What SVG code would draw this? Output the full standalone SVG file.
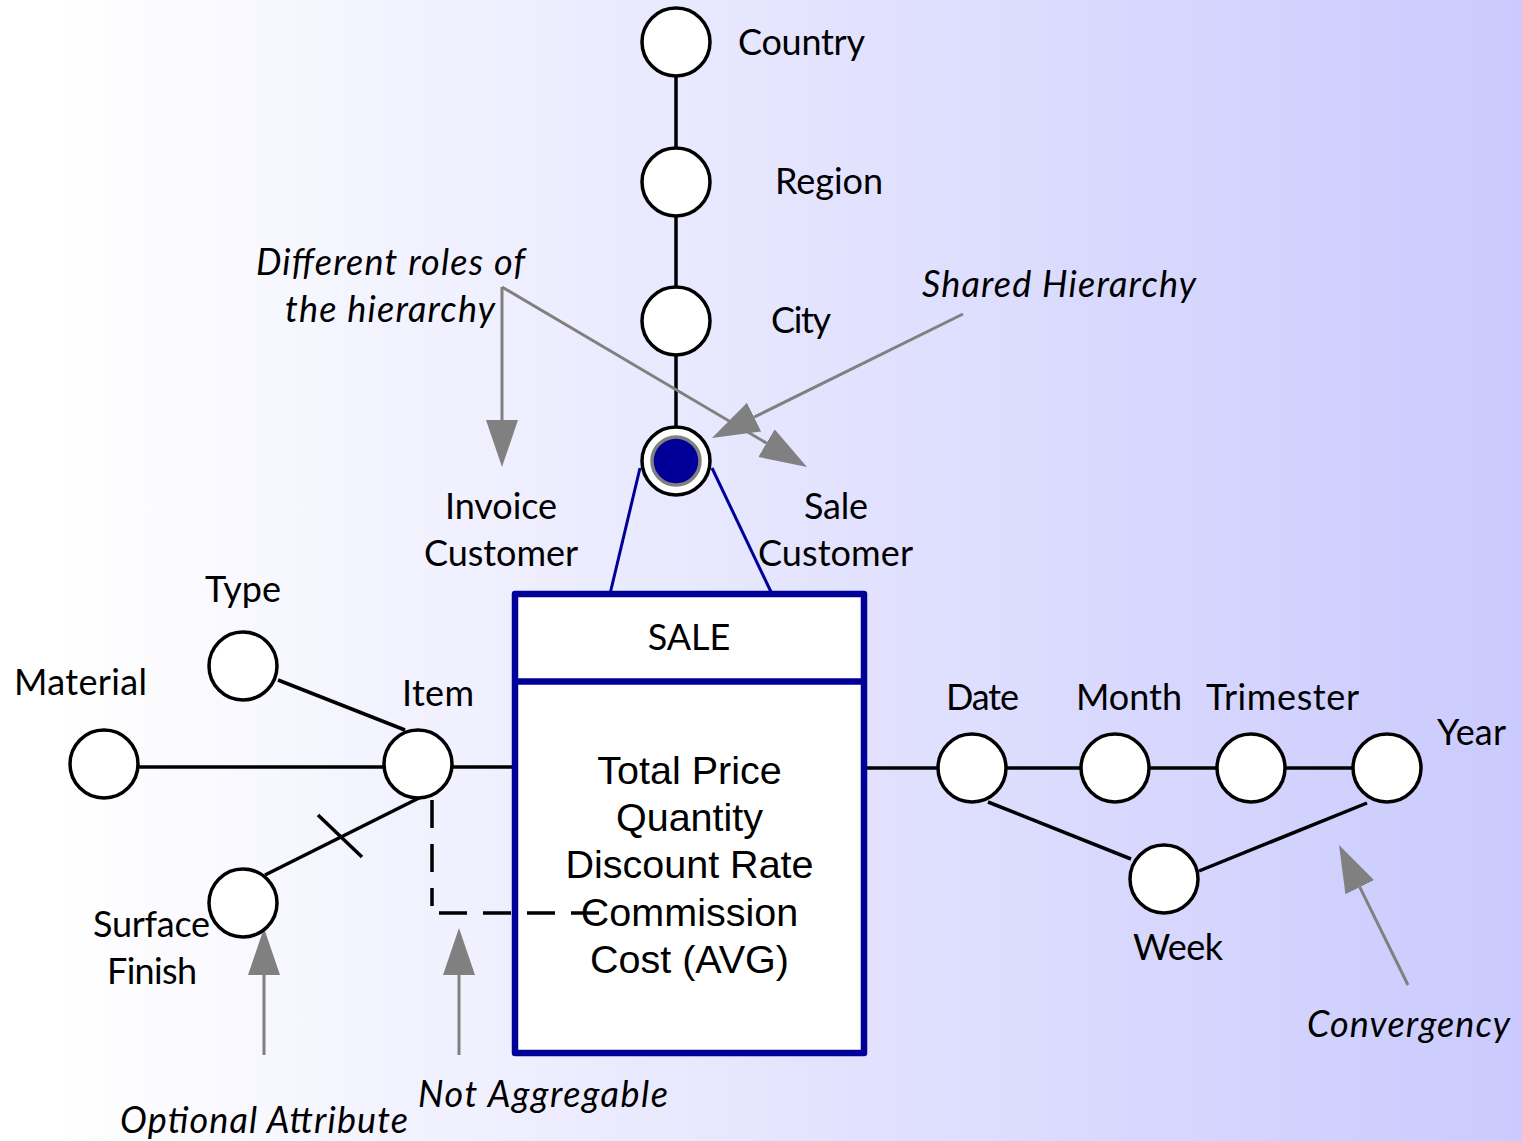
<svg xmlns="http://www.w3.org/2000/svg" width="1522" height="1141" viewBox="0 0 1522 1141">
  <defs>
    <linearGradient id="bg" x1="0" y1="0" x2="1" y2="0">
      <stop offset="0.04" stop-color="#ffffff"/>
      <stop offset="1" stop-color="#cacafe"/>
    </linearGradient>
    <marker id="head" markerUnits="userSpaceOnUse" markerWidth="48" markerHeight="34" refX="0" refY="16" orient="auto">
      <path d="M0,0 L47,16 L0,32 z" fill="#808080"/>
    </marker>
    <style>
      .lvl { fill: #ffffff; stroke: #000000; stroke-width: 3.5; }
      .link { stroke: #000000; stroke-width: 3.5; fill: none; }
      .dash { stroke: #000000; stroke-width: 3.5; fill: none; stroke-dasharray: 28 16; }
      .blue { stroke: #000099; stroke-width: 3; fill: none; }
      .note { stroke: #808080; stroke-width: 3; fill: none; marker-end: url(#head); }
      .lbl { font-family: "Lato", "Open Sans", "Liberation Sans", sans-serif; font-size: 36px; fill: #000000; }
      .it { font-family: "Lato", "Open Sans", "Liberation Sans", sans-serif; font-size: 36px; font-style: italic; fill: #000000; }
      .meas { font-family: "Liberation Sans", Arial, sans-serif; font-size: 39.5px; fill: #000000; text-anchor: middle; }
    </style>
  </defs>

  <rect x="0" y="0" width="1522" height="1141" fill="url(#bg)"/>

  <!-- connectors -->
  <g id="connectors">
    <line class="link" x1="676" y1="42" x2="676" y2="440"/>
    <line class="blue" x1="640" y1="468" x2="610" y2="594"/>
    <line class="blue" x1="712" y1="468" x2="772" y2="594"/>
    <line class="link" x1="104" y1="767" x2="515" y2="767"/>
    <line class="link" x1="278" y1="680" x2="405" y2="730"/>
    <line class="link" x1="265" y1="875" x2="421" y2="797"/>
    <line class="link" x1="318" y1="815" x2="362" y2="857"/>
    <line class="link" x1="864" y1="768" x2="1387" y2="768"/>
    <line class="link" x1="988" y1="802" x2="1131" y2="859"/>
    <line class="link" x1="1199" y1="871" x2="1367" y2="803"/>
  </g>

  <!-- annotation arrows -->
  <g id="annotations">
    <line class="note" x1="502" y1="287" x2="502" y2="420"/>
    <line class="note" x1="502" y1="287" x2="766.5" y2="443.1"/>
    <line class="note" x1="963" y1="314" x2="754.1" y2="417.2"/>
    <line class="note" x1="264" y1="1055" x2="264" y2="975"/>
    <line class="note" x1="459" y1="1055" x2="459" y2="975"/>
    <line class="note" x1="1408" y1="985" x2="1359.8" y2="887.2"/>
    <text class="it" x="256" y="275" textLength="269">Different roles of</text>
    <text class="it" x="285" y="322" textLength="210">the hierarchy</text>
    <text class="it" x="922" y="297" textLength="274">Shared Hierarchy</text>
    <text class="it" x="1307" y="1037" textLength="203">Convergency</text>
    <text class="it" x="418" y="1107" textLength="250">Not Aggregable</text>
    <text class="it" x="120" y="1133" textLength="288">Optional Attribute</text>
  </g>

  <!-- fact -->
  <g id="fact-sale">
    <rect x="515" y="594" width="349" height="459" fill="#ffffff" stroke="#000099" stroke-width="6.5" stroke-linejoin="round"/>
    <line x1="515" y1="681.5" x2="864" y2="681.5" stroke="#000099" stroke-width="6.5"/>
    <text class="lbl" x="689" y="650" font-size="32" text-anchor="middle">SALE</text>
    <text class="meas" x="689.5" y="784">Total Price</text>
    <text class="meas" x="689.5" y="831">Quantity</text>
    <text class="meas" x="689.5" y="878">Discount Rate</text>
    <text class="meas" x="689.5" y="926">Commission</text>
    <text class="meas" x="689.5" y="973">Cost (AVG)</text>
  </g>

  <!-- non-aggregable link from Item into the measures -->
  <g id="connector-not-aggregable">
    <path class="dash" d="M432,800 V906" stroke-dasharray="17 7 37 12 33"/>
    <path class="dash" d="M439,913 H600"/>
  </g>

  <!-- customer hierarchy -->
  <g id="node-country">
    <circle class="lvl" cx="676" cy="42" r="34"/>
    <text class="lbl" x="738" y="55" textLength="127">Country</text>
  </g>
  <g id="node-region">
    <circle class="lvl" cx="676" cy="182" r="34"/>
    <text class="lbl" x="775" y="194" textLength="108">Region</text>
  </g>
  <g id="node-city">
    <circle class="lvl" cx="676" cy="321" r="34"/>
    <text class="lbl" x="771" y="333" textLength="60">City</text>
  </g>
  <g id="node-customer">
    <circle class="lvl" cx="676" cy="461" r="34"/>
    <circle cx="676" cy="461" r="24" fill="#000099" stroke="#808080" stroke-width="3.5"/>
    <text class="lbl" x="445" y="519" textLength="112">Invoice</text>
    <text class="lbl" x="424" y="566" textLength="154">Customer</text>
    <text class="lbl" x="804" y="519" textLength="64">Sale</text>
    <text class="lbl" x="758" y="566" textLength="155">Customer</text>
  </g>

  <!-- item hierarchy -->
  <g id="node-type">
    <circle class="lvl" cx="243" cy="666" r="34"/>
    <text class="lbl" x="205" y="602" textLength="76">Type</text>
  </g>
  <g id="node-material">
    <circle class="lvl" cx="104" cy="764" r="34"/>
    <text class="lbl" x="14" y="695" textLength="133">Material</text>
  </g>
  <g id="node-item">
    <circle class="lvl" cx="418" cy="764" r="34"/>
    <text class="lbl" x="402" y="706" textLength="72">Item</text>
  </g>
  <g id="node-surface-finish">
    <circle class="lvl" cx="243" cy="903" r="34"/>
    <text class="lbl" x="93" y="937" textLength="117">Surface</text>
    <text class="lbl" x="107" y="984" textLength="90">Finish</text>
  </g>

  <!-- time hierarchy -->
  <g id="node-date">
    <circle class="lvl" cx="972" cy="768" r="34"/>
    <text class="lbl" x="946" y="710" textLength="73">Date</text>
  </g>
  <g id="node-month">
    <circle class="lvl" cx="1115" cy="768" r="34"/>
    <text class="lbl" x="1076" y="710" textLength="106">Month</text>
  </g>
  <g id="node-trimester">
    <circle class="lvl" cx="1251" cy="768" r="34"/>
    <text class="lbl" x="1206" y="710" textLength="153">Trimester</text>
  </g>
  <g id="node-year">
    <circle class="lvl" cx="1387" cy="768" r="34"/>
    <text class="lbl" x="1437" y="745" textLength="69">Year</text>
  </g>
  <g id="node-week">
    <circle class="lvl" cx="1164" cy="879" r="34"/>
    <text class="lbl" x="1133" y="960" textLength="90">Week</text>
  </g>
</svg>
